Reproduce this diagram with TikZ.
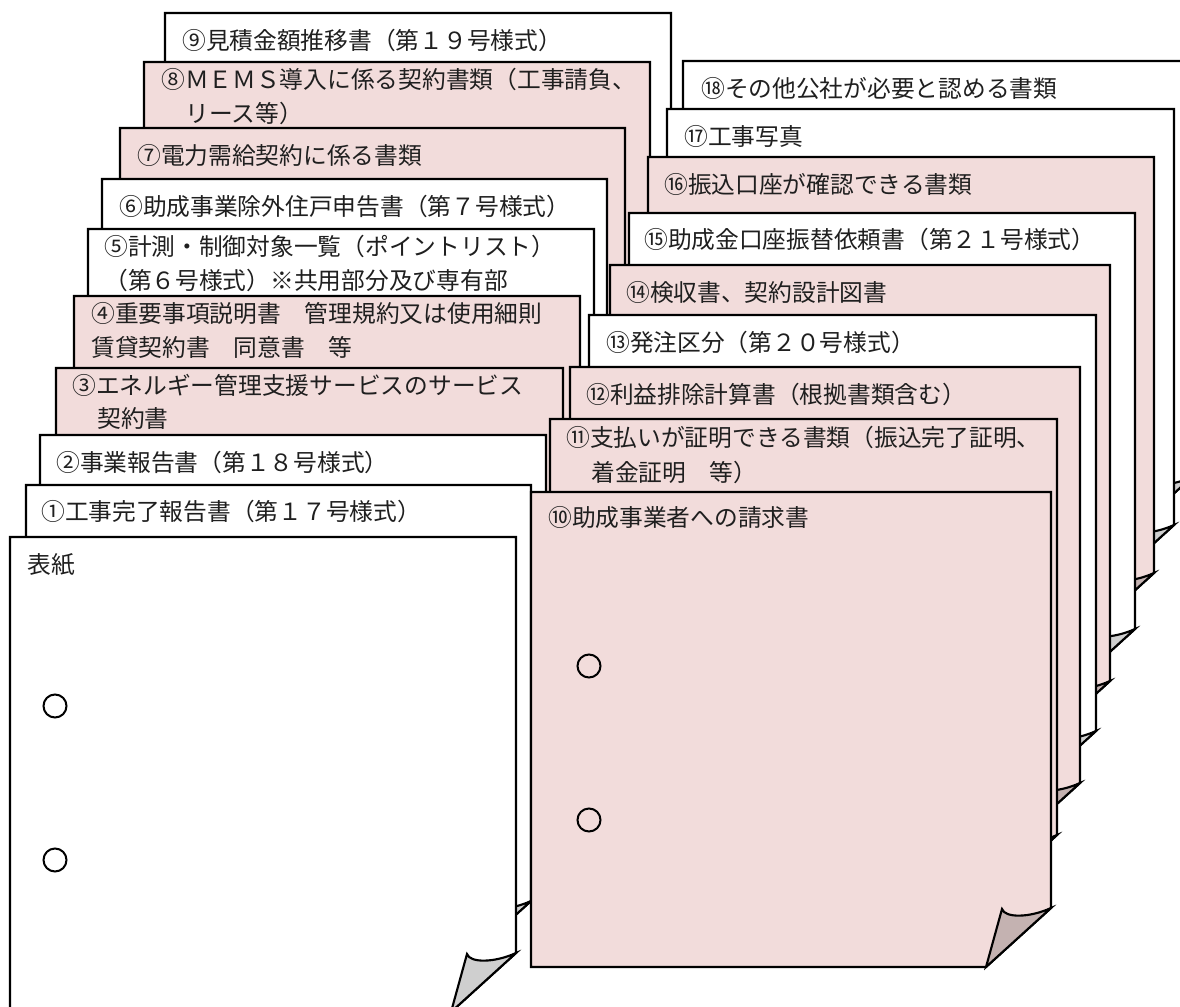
\documentclass[tikz,border=0pt]{standalone}
\usepackage{fontspec}
\setmainfont{Noto Sans CJK JP}
\definecolor{pk}{HTML}{F2DCDB}
\definecolor{pkflap}{HTML}{C4B2B1}
\definecolor{whflap}{HTML}{CFCFCF}
\tikzset{
  pagestyle/.style={draw=black, line width=1.6pt, line join=miter},
  lbl/.style={anchor=base west, inner sep=0pt, text=black!88,
    font=\fontsize{17.8}{22.5}\selectfont},
  hole/.style={draw=black, line width=1.5pt}
}
% #1 left, #2 top, #3 right, #4 page fill, #5 flap fill
\newcommand\docpage[5]{%
  \filldraw[pagestyle, fill=#4] (#1,#2) -- (#3,#2) -- (#3,#2+416) -- (#3-65,#2+475) -- (#1,#2+475) -- cycle;
  \filldraw[pagestyle, fill=#5] (#3,#2+416) -- (#3-65,#2+475) -- (#3-49,#2+417)
     .. controls (#3-46,#2+426) and (#3-22,#2+426) .. (#3,#2+416) -- cycle;
}
\begin{document}
\begin{tikzpicture}[x=0.75pt,y=-0.75pt]
\useasboundingbox (0,0) rectangle (1180,1006);
\clip (0,0) rectangle (1180,1006);
% ---------- left stack (back to front)
\docpage{165}{13}{671}{white}{whflap}
\node[lbl] (t9) at (182,49.5) {⑨見積金額推移書（第１９号様式）};
\docpage{144}{62}{650}{pk}{pkflap}
\node[lbl] (t8) at (161,88.5) {⑧ＭＥＭＳ導入に係る契約書類（工事請負、};
\node[lbl] (t8b) at (185,122) {リース等）};
\docpage{120}{128}{625}{pk}{pkflap}
\node[lbl] (t7) at (137,164.5) {⑦電力需給契約に係る書類};
\docpage{102}{179}{607}{white}{whflap}
\node[lbl] (t6) at (119,215.5) {⑥助成事業除外住戸申告書（第７号様式）};
\docpage{88}{229}{594}{white}{whflap}
\node[lbl] (t5) at (104,255.5) {⑤計測・制御対象一覧（ポイントリスト）};
\node[lbl] (t5b) at (104,289) {（第６号様式）※共用部分及び専有部};
\docpage{74}{296}{580}{pk}{pkflap}
\node[lbl] (t4) at (91,322.5) {④重要事項説明書　管理規約又は使用細則};
\node[lbl] (t4b) at (91,356) {賃貸契約書　同意書　等};
\docpage{56}{368}{563}{pk}{pkflap}
\node[lbl] (t3) at (72,394) {③エネルギー管理支援サービスのサービス};
\node[lbl] (t3b) at (97,427.5) {契約書};
\docpage{40}{435}{546}{white}{whflap}
\node[lbl] (t2) at (56,471.5) {②事業報告書（第１８号様式）};
\docpage{26}{485}{531}{white}{whflap}
\node[lbl] (t1) at (41,520.5) {①工事完了報告書（第１７号様式）};
\docpage{10}{537}{516}{white}{whflap}
\node[lbl] (t0) at (27,573.5) {表紙};
\draw[hole] (55,706) circle[radius=11.5];
\draw[hole] (55,860) circle[radius=11.5];
% ---------- right stack (back to front)
\docpage{683}{61}{1192}{white}{whflap}
\node[lbl] (t18) at (701,97) {⑱その他公社が必要と認める書類};
\docpage{667}{109}{1174}{white}{whflap}
\node[lbl] (t17) at (684,145.5) {⑰工事写真};
\docpage{648}{157}{1154}{pk}{pkflap}
\node[lbl] (t16) at (664,193.5) {⑯振込口座が確認できる書類};
\docpage{629}{213}{1135}{white}{whflap}
\node[lbl] (t15) at (644,248.5) {⑮助成金口座振替依頼書（第２１号様式）};
\docpage{610}{265}{1110}{pk}{pkflap}
\node[lbl] (t14) at (626,301.5) {⑭検収書、契約設計図書};
\docpage{589}{315}{1096}{white}{whflap}
\node[lbl] (t13) at (606,351.5) {⑬発注区分（第２０号様式）};
\docpage{570}{367}{1080}{pk}{pkflap}
\node[lbl] (t12) at (586,403.5) {⑫利益排除計算書（根拠書類含む）};
\docpage{550}{419}{1057}{pk}{pkflap}
\node[lbl] (t11) at (566,446.5) {⑪支払いが証明できる書類（振込完了証明、};
\node[lbl] (t11b) at (591,481) {着金証明　等）};
\docpage{531}{492}{1051}{pk}{pkflap}
\node[lbl] (t10) at (548,526.5) {⑩助成事業者への請求書};
\draw[hole] (589,666) circle[radius=11.5];
\draw[hole] (589,820) circle[radius=11.5];
\end{tikzpicture}
\end{document}
